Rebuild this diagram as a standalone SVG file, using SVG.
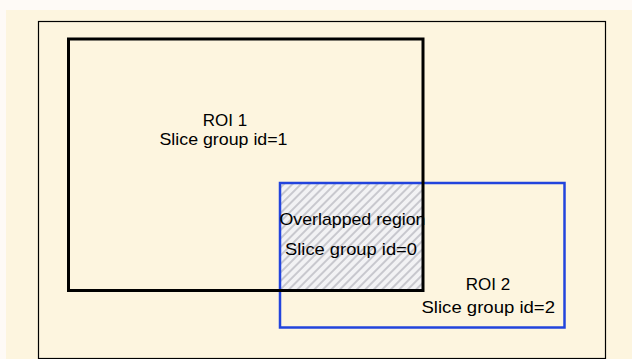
<svg xmlns="http://www.w3.org/2000/svg" width="632" height="359" viewBox="0 0 632 359">
<style>
text{font-family:"Liberation Sans",Arial,sans-serif;font-size:17px;fill:#000}
.roi1{fill:none;stroke:#000;stroke-width:3}
.roi2{fill:none;stroke:#2244dd;stroke-width:2.5}
</style>
<defs>
<pattern id="hatch" patternUnits="userSpaceOnUse" width="6" height="6" patternTransform="rotate(45)">
<rect width="6" height="6" fill="#f2f2f4"/>
<rect width="2" height="6" fill="#c8c8ce"/>
</pattern>
</defs>
<rect width="632" height="359" fill="#fefaf6"/>
<rect x="6" y="10" width="626" height="349" fill="#fdf5df"/>
<g id="frame"><rect x="38.5" y="21.5" width="567" height="337" fill="#fdf5df" stroke="#000" stroke-width="1.2"/></g>
<g id="overlap"><rect x="280" y="183" width="143" height="107" fill="url(#hatch)"/></g>
<g id="roi2"><rect class="roi2" x="280" y="183" width="284.5" height="144.5"/></g>
<g id="roi1"><rect class="roi1" x="68.5" y="39" width="354.5" height="251.5"/></g>
<g id="labels">
<text x="225" y="126" text-anchor="middle">ROI 1</text>
<text x="159.5" y="145" textLength="128" lengthAdjust="spacingAndGlyphs">Slice group id=1</text>
<text x="279.5" y="225" textLength="146" lengthAdjust="spacingAndGlyphs">Overlapped region</text>
<text x="285" y="255" textLength="132" lengthAdjust="spacingAndGlyphs">Slice group id=0</text>
<text x="488" y="290" text-anchor="middle">ROI 2</text>
<text x="421.5" y="313" textLength="133.5" lengthAdjust="spacingAndGlyphs">Slice group id=2</text>
</g>
<g id="connectors"></g>
</svg>
